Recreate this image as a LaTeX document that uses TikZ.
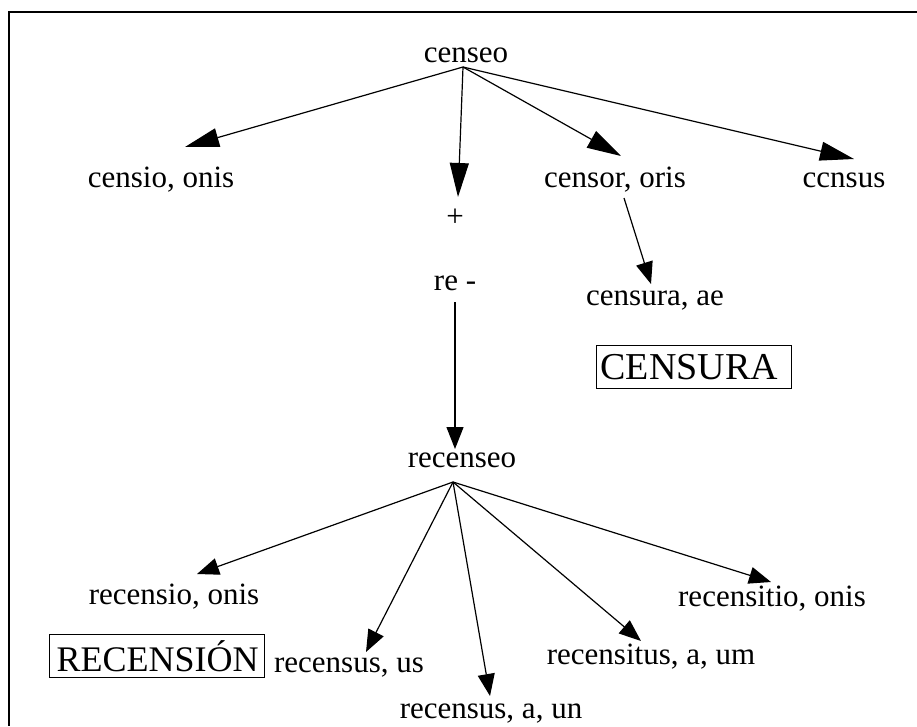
\documentclass[tikz,border=0pt]{standalone}
\usepackage{fontspec}
\setmainfont{Liberation Serif}
\usetikzlibrary{arrows.meta}
\tikzset{
  word/.style={inner sep=0pt, anchor=base, font=\fontsize{31}{36}\selectfont},
  boxword/.style={draw, line width=1.2pt, inner ysep=0pt, anchor=north west, minimum height=43pt, align=left},
  conn/.style={line width=1.2pt},
  bighead/.style={conn, -{Triangle[length=34pt,width=19pt]}},
  smallhead/.style={conn, -{Triangle[length=22pt,width=17pt]}},
  frame/.style={line width=2pt}
}
\begin{document}
\begin{tikzpicture}[x=1pt,y=-1pt]
\useasboundingbox (0,0) rectangle (917,726);
% frame
\coordinate (fTL) at (9,12);
\coordinate (fTR) at (917,12);
\coordinate (fBL) at (9,726);
\draw[frame] (fTR) -- (fTL) -- (fBL);
% nodes
\node[word] (censeo) at (466,62) {censeo};
\node[word] (censio) at (161,187) {censio, onis};
\node[word] (plus) at (455,226) {+};
\node[word] (censor) at (615,187) {censor, oris};
\node[word] (census) at (844,187) {ccnsus};
\node[word] (re) at (455,290) {re -};
\node[word] (censura) at (655,305) {censura, ae};
\node[boxword, text width=187pt, inner xsep=4pt, font=\fontsize{38}{40}\selectfont] (CENSURA) at (596,345) {CENSURA};
\node[word] (recenseo) at (462,467) {recenseo};
\node[word] (recensio) at (174,604) {recensio, onis};
\node[boxword, text width=201pt, inner xsep=7pt, font=\fontsize{36}{40}\selectfont] (RECENSION) at (49,634) {RECENSIÓN};
\node[word] (recensusus) at (349,672) {recensus, us};
\node[word] (recensusaun) at (491,718) {recensus, a, un};
\node[word] (recensitus) at (651,664) {recensitus, a, um};
\node[word] (recensitio) at (772,606) {recensitio, onis};
% hub and tip coordinates
\coordinate (censeoHub) at (463,67);
\coordinate (censioTip) at (185,147);
\coordinate (plusTip) at (458,197);
\coordinate (censorTip) at (621,156);
\coordinate (censusTip) at (854,159);
\coordinate (reFoot) at (455,302);
\coordinate (recenseoTip) at (455,449);
\coordinate (censorFoot) at (624,198);
\coordinate (censuraTip) at (651,284);
\coordinate (recenseoHub) at (453,482);
\coordinate (recensioTip) at (197,574);
\coordinate (recensususTip) at (366,652);
\coordinate (recensusaunTip) at (490,696);
\coordinate (recensitusTip) at (641,641);
\coordinate (recensitioTip) at (771,582);
% connectors
\draw[bighead] (censeoHub) -- (censioTip);
\draw[bighead] (censeoHub) -- (plusTip);
\draw[bighead] (censeoHub) -- (censorTip);
\draw[bighead] (censeoHub) -- (censusTip);
\draw[smallhead] (reFoot) -- (recenseoTip);
\draw[smallhead] (censorFoot) -- (censuraTip);
\draw[smallhead] (recenseoHub) -- (recensioTip);
\draw[smallhead] (recenseoHub) -- (recensususTip);
\draw[smallhead] (recenseoHub) -- (recensusaunTip);
\draw[smallhead] (recenseoHub) -- (recensitusTip);
\draw[smallhead] (recenseoHub) -- (recensitioTip);
\end{tikzpicture}
\end{document}
